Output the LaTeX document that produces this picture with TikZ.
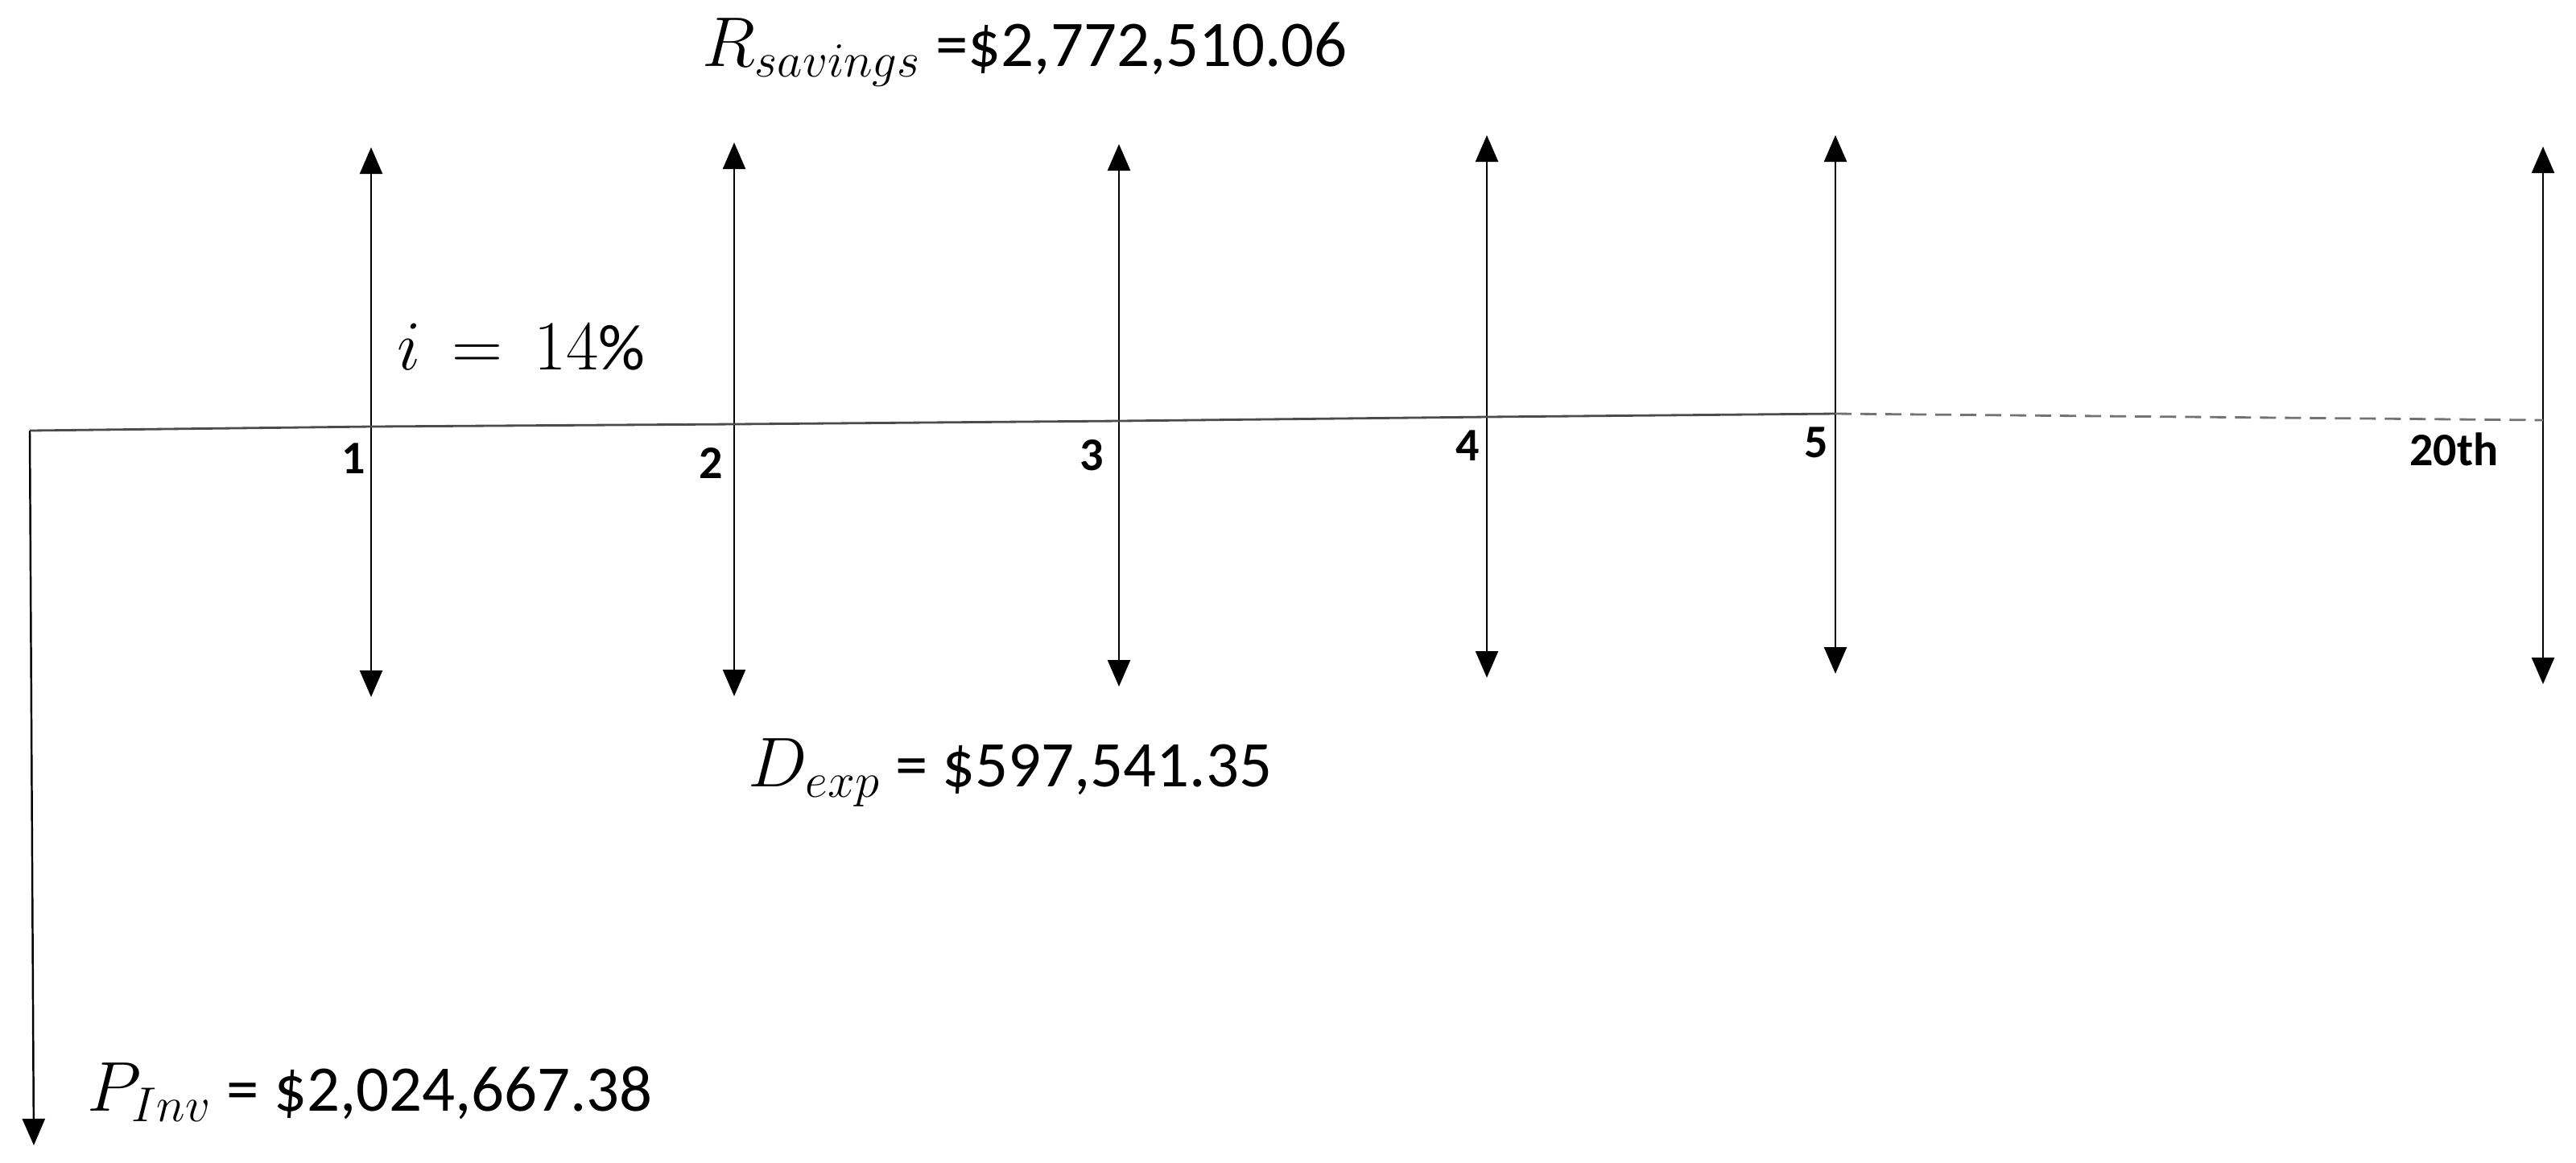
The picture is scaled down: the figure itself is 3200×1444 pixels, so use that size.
\documentclass[tikz,border=0pt]{standalone}
\usepackage{fontspec}
\setmainfont{Carlito}
\usetikzlibrary{arrows.meta}
\tikzstyle{flow}=[draw=black,line width=0.7pt,-{Triangle[length=3.3mm,width=2.8mm]}]
\tikzstyle{period}=[anchor=base east,inner sep=0pt,font=\fontsize{16.5}{19}\selectfont\bfseries]
\tikzstyle{amount}=[anchor=base west,inner sep=0pt,font=\fontsize{23}{27}\selectfont]

\begin{document}
\begin{tikzpicture}[x=0.01cm,y=-0.01cm]
    \useasboundingbox (0,0) rectangle (3200,1444);
    \coordinate (start) at (37,535);
    \coordinate (invest) at (42,1423);
    \foreach \n/\x/\y/\yt/\yb/\lx/\ly/\txt in {1/461/530/183/866/455/588/1, 2/912/527/177/865/899/594/2, 3/1390/523/179/853/1372/584/3, 4/1847/518/168/842/1839/572/4, 5/2280/514/168/837/2272/568/5, 20/3159/522/182/850/3104/578/20th} {
        \coordinate (\n) at (\x,\y);
        \coordinate (\n up) at (\x,\yt);
        \coordinate (\n down) at (\x,\yb);
        \draw[flow] (\n) -- (\n up);
        \draw[flow] (\n) -- (\n down);
        \node[period] (\n label) at (\lx,\ly) {\txt};
    };
    \draw[line width=0.8pt,black!70] (start) -- (1) -- (2) -- (3) -- (4) -- (5);
    \draw[line width=0.8pt,black!55,dash pattern=on 2mm off 1.1mm] (5) -- (20);
    \draw[flow] (start) -- (invest);
    \node[amount] (savings) at (872,82) {$R_{savings}$ =\$2,772,510.06};
    \node[amount] (rate) at (493,459) {$i \,=\, 14\%$};
    \node[amount] (expense) at (929,977) {$D_{exp}$ = \$597,541.35};
    \node[amount] (investment) at (108,1380) {$P_{Inv}$ = \$2,024,667.38};
\end{tikzpicture}
\end{document}
